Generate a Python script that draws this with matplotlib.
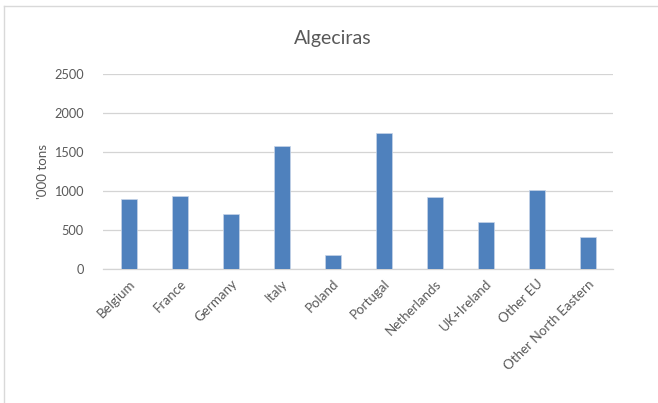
import matplotlib
matplotlib.use("Agg")
import matplotlib.pyplot as plt
from matplotlib.lines import Line2D

# Chart data
countries = ["Belgium", "France", "Germany", "Italy", "Poland", "Portugal",
             "Netherlands", "UK+Ireland", "Other EU", "Other North Eastern"]
tons = [905, 940, 710, 1575, 180, 1750, 920, 600, 1010, 410]
yticks = [0, 500, 1000, 1500, 2000, 2500]

plt.rcParams["font.family"] = ["Lato", "DejaVu Sans"]
text_grey = "#595959"

fig = plt.figure(figsize=(6.58, 4.03), dpi=100)
ax = fig.add_axes([0.157, 0.332, 0.775, 0.484])

x = range(len(countries))
ax.bar(x, tons, width=0.31, color="#4f81bd", edgecolor="#c6d4e8", linewidth=0.5, zorder=3)

ax.set_ylim(0, 2500)
ax.set_xlim(-0.5, len(countries) - 0.5)
ax.set_yticks(yticks)
ax.set_yticklabels([str(t) for t in yticks])
ax.yaxis.grid(True, color="#d4d4d4", linewidth=0.9, zorder=0)
ax.set_axisbelow(True)

for side in ["top", "right", "left"]:
    ax.spines[side].set_visible(False)
ax.spines["bottom"].set_color("#d4d4d4")
ax.spines["bottom"].set_linewidth(0.9)

ax.set_xticks(list(x))
ax.set_xticklabels(countries, rotation=45, ha="right", rotation_mode="anchor")
ax.tick_params(axis="x", length=0, pad=6, labelsize=9.6, labelcolor=text_grey)
ax.tick_params(axis="y", length=0, pad=14, labelsize=9.2, labelcolor=text_grey)

ax.set_ylabel("'000 tons", fontsize=9.6, color=text_grey, labelpad=4)
fig.text(0.506, 0.905, "Algeciras", ha="center", va="center", fontsize=14, color=text_grey)

# chart-area border (only top and left edges are visible in the crop)
fig.add_artist(Line2D([0.006, 1.0], [0.985, 0.985], transform=fig.transFigure, color="#d9d9d9", linewidth=1))
fig.add_artist(Line2D([0.006, 0.006], [0.0, 0.985], transform=fig.transFigure, color="#d9d9d9", linewidth=1))

fig.savefig("out.png", dpi=100)
